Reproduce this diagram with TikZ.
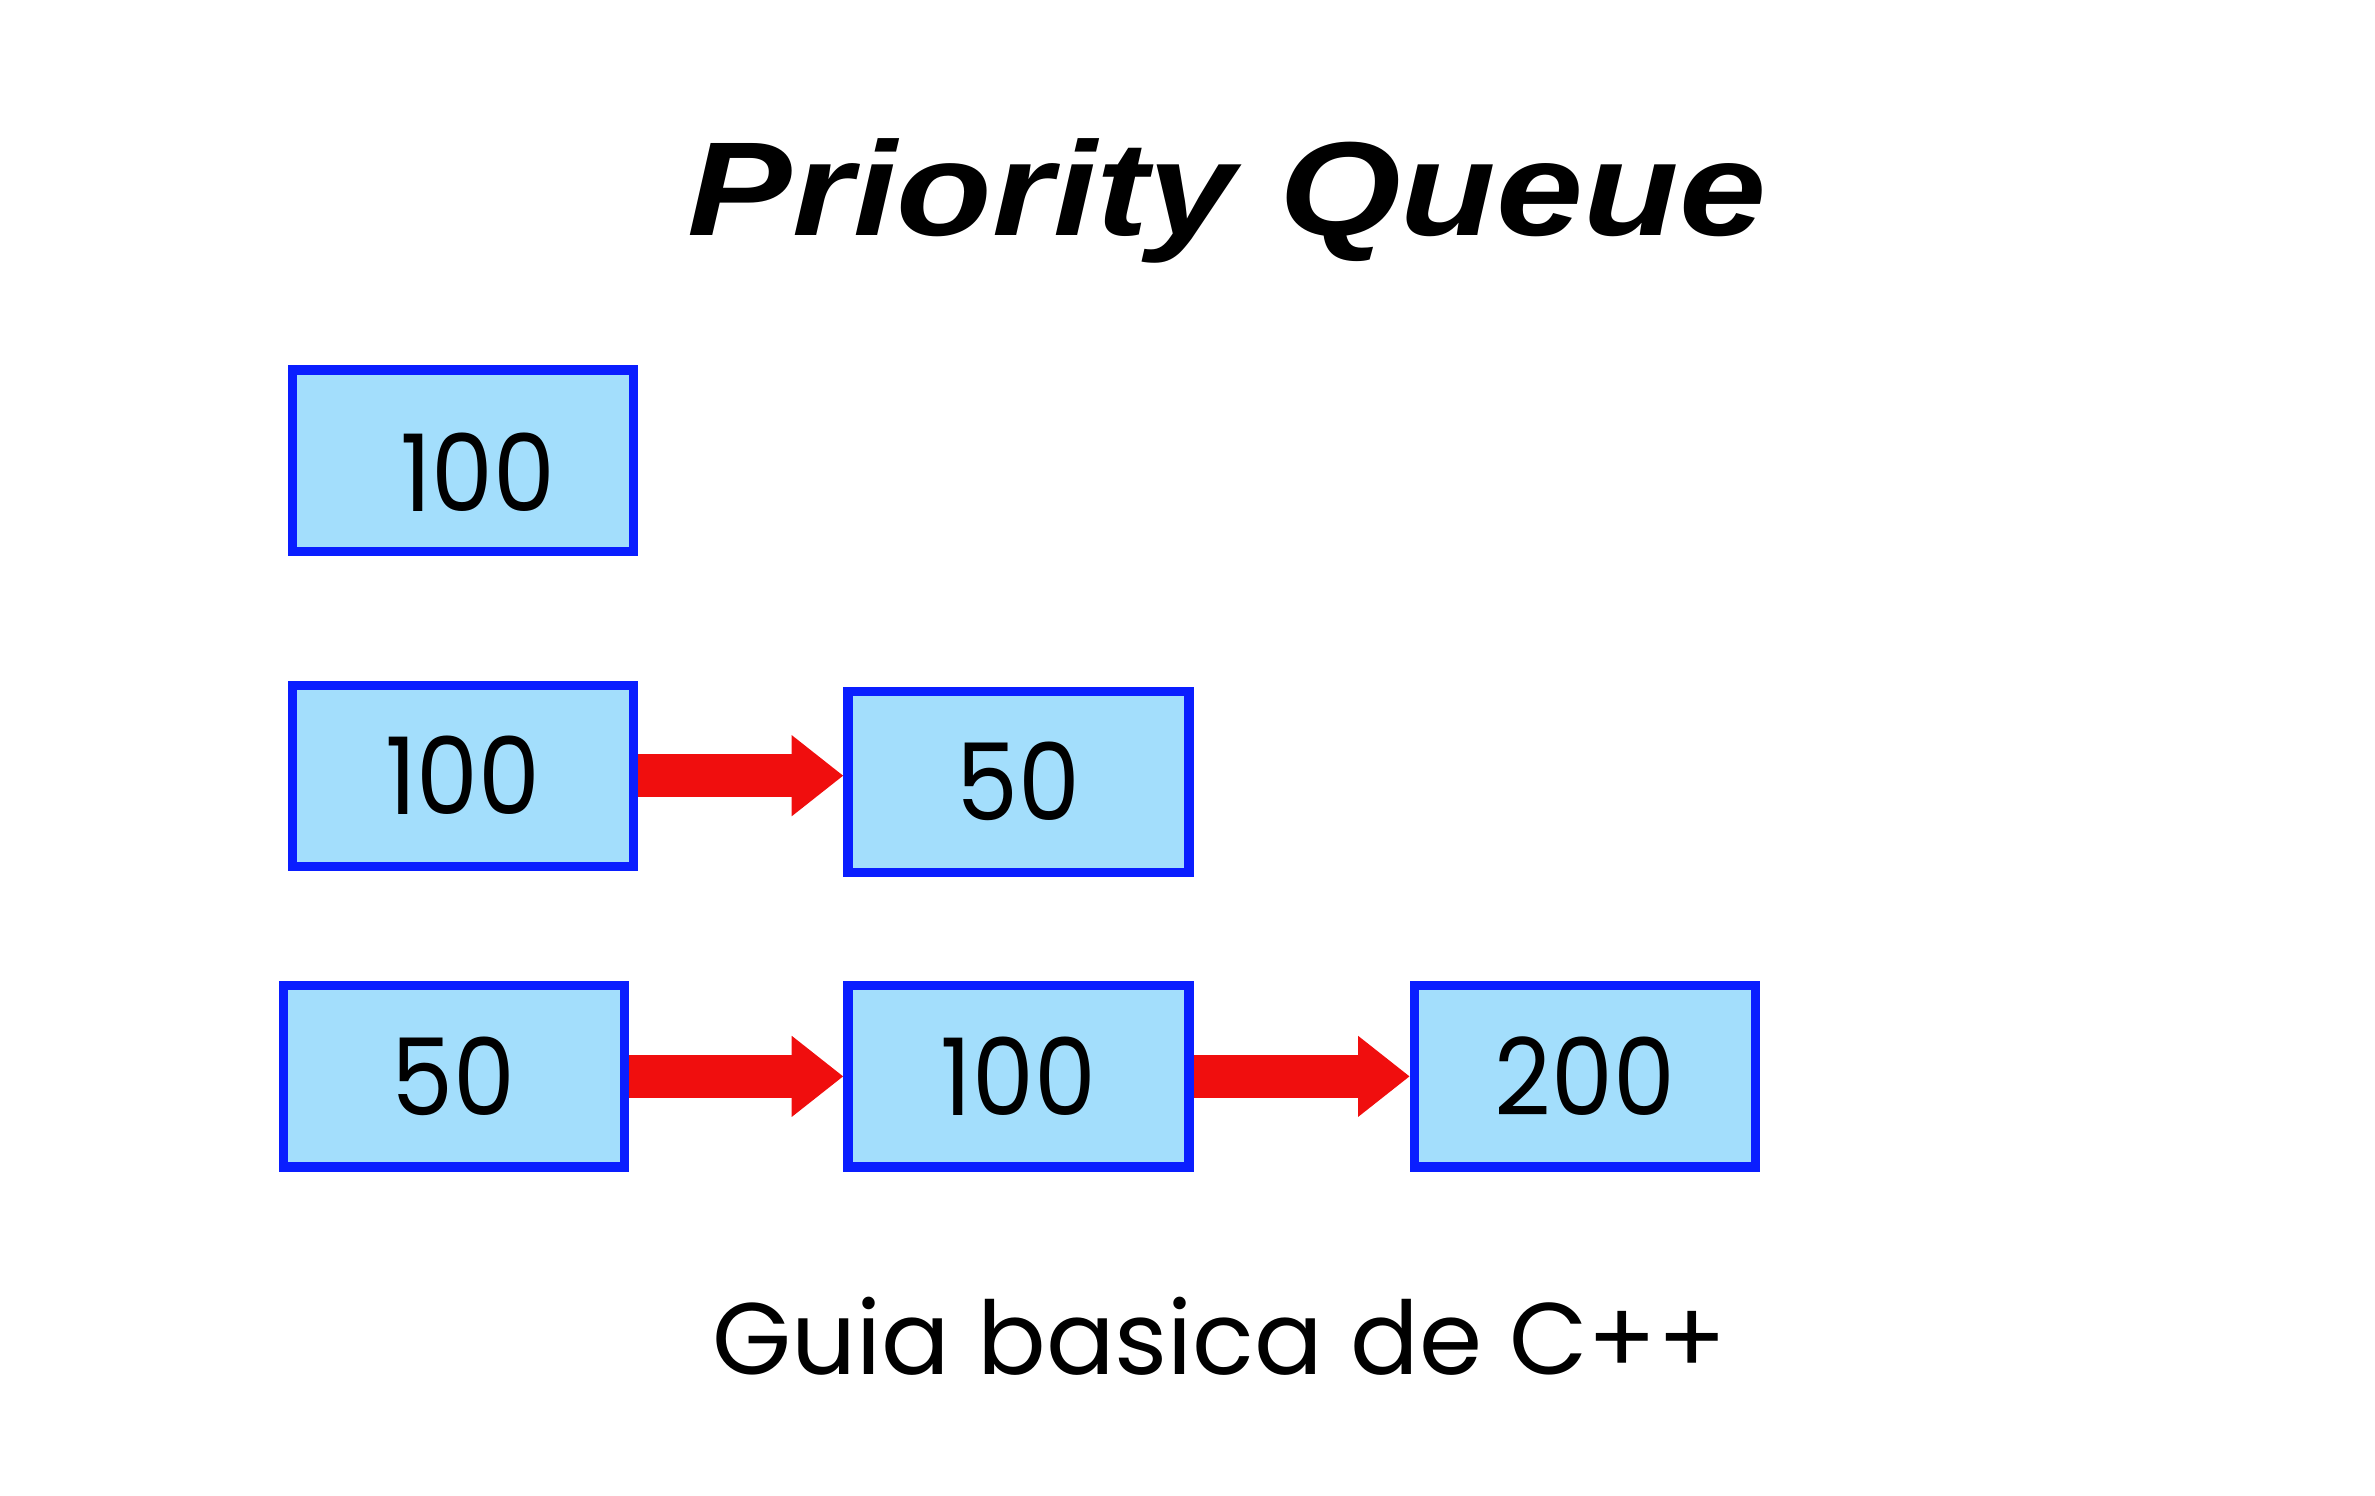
\documentclass[tikz,border=0pt]{standalone}
\usepackage{fontspec}
\setmainfont{Poppins}
\newfontfamily\titlefont{Liberation Sans}
\newfontfamily\numfont[FakeStretch=0.92]{Poppins}
\usetikzlibrary{arrows.meta,positioning}
\definecolor{boxblue}{RGB}{10,30,255}
\definecolor{boxfill}{RGB}{163,222,252}
\definecolor{arrowred}{RGB}{240,14,14}
\tikzset{
    cell/.style={draw=boxblue, fill=boxfill, line width=0.06cm,
        minimum width=2.24cm, minimum height=1.19cm, inner sep=0pt,
        font=\numfont\fontsize{20}{20}\selectfont},
    link/.style={draw=arrowred, line width=0.28cm,
        -{Triangle[length=0.34cm,width=0.51cm]}}
}

\begin{document}
\begin{tikzpicture}

                \useasboundingbox (0,0) rectangle (15.60,-9.82);

                % Title.
                \node (title) at (8.06,-1.55) [anchor=base,
                    font=\titlefont\bfseries\itshape\fontsize{25}{25}\selectfont]
                    {\scalebox{1.17}[1]{Priority Queue}};

                % First step.
                \node[cell] (A1) at (3.04,-3.025)
                    {\hspace*{0.2cm}\raisebox{-0.075cm}[\height][\depth]{100}};

                % Second step.
                \node[cell] (B1) at (3.04,-5.095) {100};
                \node[cell] (B2) at (6.69,-5.135) {50};
                \draw[link] (B1.east) -- (B1.east -| B2.west);

                % Third step.
                \node[cell] (C1) at (2.98,-7.07) {50};
                \node[cell] (C2) at (6.69,-7.07) {100};
                \node[cell] (C3) at (10.41,-7.07) {200};
                \draw[link] (C1) -- (C2);
                \draw[link] (C2) -- (C3);

                % Caption.
                \node (caption) at (8.01,-9.03) [anchor=base,
                    font=\fontsize{19}{19}\selectfont] {Guia basica de C++};
\end{tikzpicture}
\end{document}
